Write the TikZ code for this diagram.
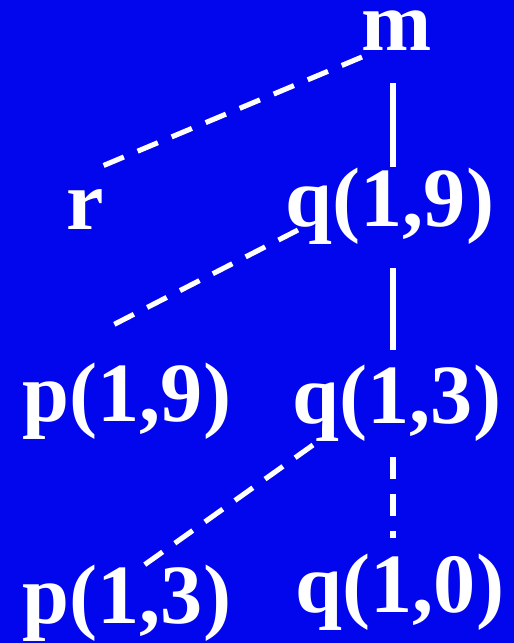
\documentclass[tikz,border=0pt]{standalone}
\usepackage{fontspec}
\setmainfont{Liberation Serif}
\usepackage{xcolor}
\usepackage{tikz}
\usetikzlibrary{calc}
\definecolor{slideblue}{RGB}{2,6,236}

\begin{document}
\begin{tikzpicture}[x=0.02cm, y=-0.02cm,
  term/.style={text=white, inner sep=0pt, anchor=base, font=\fontsize{48}{52}\selectfont\bfseries},
  solidln/.style={draw=white, line width=3.2pt},
  dashln/.style={draw=white, line width=2.9pt, dash pattern=on 12.5pt off 8.5pt}
]
\fill[slideblue] (0,0) rectangle (514,643);
\useasboundingbox (0,0) rectangle (514,643);
\node[term] (m) at (397,50) {m};
\node[term] (r) at (85,229) {r};
\node[term] (q19) at (390,226) {q(1,9)};
\node[term] (p19) at (127,421) {p(1,9)};
\node[term] (q13) at (397,423) {q(1,3)};
\node[term] (p13) at (127,623) {p(1,3)};
\node[term] (q10) at (400,612) {q(1,0)};
\draw[dashln] ($(m.base)+(-35,7)$) -- ($(r.base)+(15,-62)$);
\draw[solidln] ($(m.base)+(-4,33)$) -- ($(q19.base)+(3,-59)$);
\draw[dashln] ($(q19.base)+(-92,4)$) -- ($(p19.base)+(-14,-96)$);
\draw[solidln] ($(q19.base)+(3,42)$) -- ($(q13.base)+(-4,-73)$);
\draw[dashln] ($(q13.base)+(-84,22)$) -- ($(p13.base)+(13,-55)$);
\draw[dashln] ($(q13.base)+(-4,34)$) -- ($(q10.base)+(-7,-74)$);
\end{tikzpicture}
\end{document}
